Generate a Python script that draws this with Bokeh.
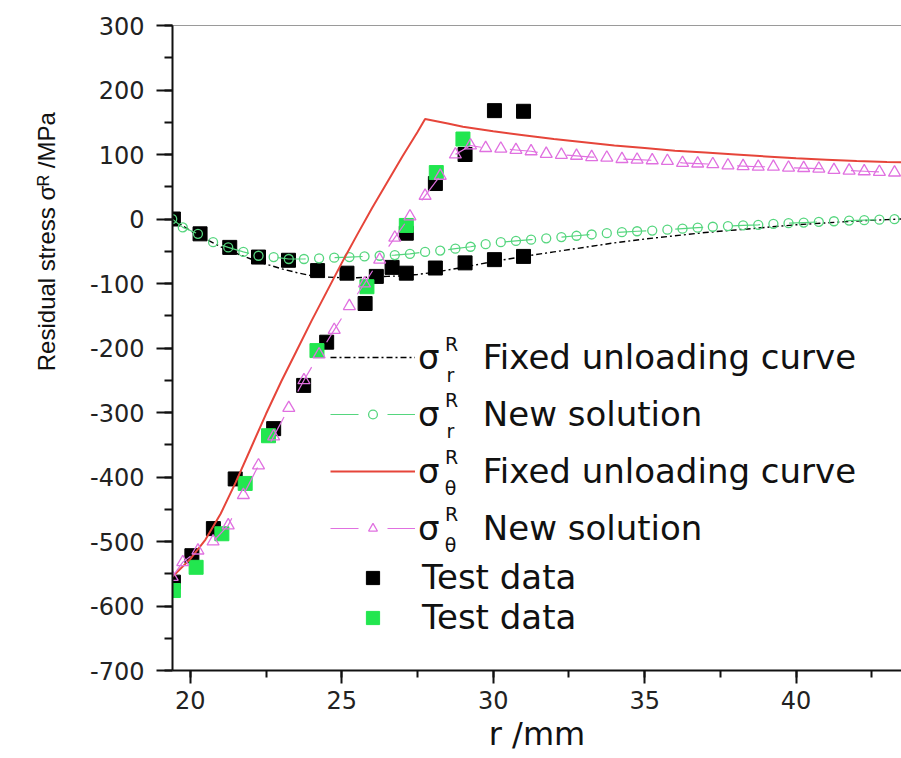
from bokeh.plotting import figure
from bokeh.models import (Range1d, LinearAxis, FixedTicker, SingleIntervalTicker,
                          Legend, LegendItem, Label, Title, PrintfTickFormatter)
from bokeh.embed import file_html
from bokeh.resources import INLINE

# ---------------- data ----------------
# sigma_r, fixed unloading curve (black dash-dot)
sr_fixed_x = [19.4, 20.0, 20.5, 21.0, 21.5, 22.0, 22.5, 23.0, 23.5, 24.0, 24.5, 25.0,
              25.5, 26.0, 26.5, 27.0, 27.5, 28.0, 29.0, 30.0, 31.0, 32.0, 33.0, 34.0,
              35.0, 36.0, 37.0, 38.0, 39.0, 40.0, 41.0, 42.0, 43.0, 43.5]
sr_fixed_y = [0, -18, -31, -43, -53, -62, -70, -77, -83, -88, -90, -91,
              -91, -90, -89, -88, -86, -83, -75, -66, -58, -51, -44, -37,
              -31, -26, -21, -17, -13, -9, -6, -3, -1, 0]

# sigma_theta, fixed unloading curve (red solid)
st_fixed_x = [19.4, 20.0, 20.5, 21.0, 21.5, 22.0, 22.5, 23.0, 23.5, 24.0, 24.5, 25.0,
              25.5, 26.0, 26.5, 27.0, 27.5, 27.75, 28.5, 29.0, 30.0, 31.0, 32.0, 33.0,
              34.0, 35.0, 36.0, 37.0, 38.0, 39.0, 40.0, 41.0, 42.0, 43.0, 43.5]
st_fixed_y = [-555, -527, -497, -457, -408, -355, -302, -252, -205, -158, -113, -68,
              -25, 17, 57, 97, 135, 155, 148, 143, 136, 130, 124, 119,
              114, 110, 106, 103, 100, 97, 94, 92, 90, 88.5, 88]

# new solution (both components share the same radii)
new_x = [19.4, 19.75, 20.25, 20.75, 21.25, 21.75, 22.25, 22.75, 23.25, 23.75, 24.25,
         24.75, 25.25, 25.75, 26.25, 26.75, 27.25, 27.75, 28.25, 28.75, 29.25, 29.75,
         30.25, 30.75, 31.25, 31.75, 32.25, 32.75, 33.25, 33.75, 34.25, 34.75, 35.25,
         35.75, 36.25, 36.75, 37.25, 37.75, 38.25, 38.75, 39.25, 39.75, 40.25, 40.75,
         41.25, 41.75, 42.25, 42.75, 43.25]
sr_new_y = [0, -13, -23, -36, -44, -51, -57, -59, -62, -62, -61,
            -60, -59, -58, -57, -56, -54, -51, -49, -46, -43, -39,
            -36, -34, -32, -30, -28, -26, -24, -22, -20.5, -19, -18,
            -16.5, -15, -13.5, -12, -11, -10, -9, -7.5, -6.5, -5.5, -4.5,
            -3.5, -2.5, -1.8, -1, -0.3]
st_new_y = [-555, -532, -514, -500, -475, -428, -382, -337, -293, -250, -210,
            -172, -135, -100, -63, -29, 4, 36, 67, 100, 114, 110,
            109, 107, 105, 101, 99.5, 98, 96, 95, 93, 92, 91,
            90, 87, 86, 85, 83, 82, 81, 81, 79.5, 79, 78,
            76, 75, 74, 73, 72]

# test data (black): radial and hoop
test_r_x = [19.44, 20.32, 21.3, 22.25, 23.24, 24.2, 25.17, 26.14, 26.66, 27.13, 28.09,
            29.07, 30.04, 31.0]
test_r_y = [0, -23, -44, -59, -64, -80, -84, -89, -75, -84, -76, -68, -63, -58]
test_t_x = [19.44, 20.05, 20.76, 21.48, 22.75, 23.74, 24.5, 25.77, 27.13, 28.09, 29.07,
            30.04, 31.0]
test_t_y = [-563, -522, -480, -403, -325, -258, -191, -131, -22, 55, 100, 168, 167]
# test data (green)
test_g_x = [19.44, 20.19, 21.04, 21.81, 22.58, 24.18, 25.83, 27.13, 28.12, 29.0]
test_g_y = [-576, -540, -488, -410, -336, -204, -105, -10, 72, 124]

x_ticks_interval = 5
y_ticks_interval = 100

# ---------------- figure ----------------
p = figure(width=901, height=758, output_backend="svg", toolbar_location=None,
           x_range=Range1d(19.41, 43.48), y_range=Range1d(-700, 300),
           min_border_left=172, min_border_right=0, min_border_top=25,
           min_border_bottom=88)
p.xgrid.visible = False
p.ygrid.visible = False
p.outline_line_color = None
p.background_fill_color = "white"
p.border_fill_color = "white"

xa = p.xaxis[0]
xa.ticker = SingleIntervalTicker(interval=x_ticks_interval, num_minor_ticks=2)
ya = p.yaxis[0]
ya.ticker = SingleIntervalTicker(interval=y_ticks_interval, num_minor_ticks=2)
ya.formatter = PrintfTickFormatter(format="%d")

for ax, tout, mout, so in ((xa, 13, 7, 7), (ya, 16, 8, 12)):
    ax.axis_line_width = 2
    ax.axis_line_color = "#111111"
    ax.major_tick_line_width = 2
    ax.minor_tick_line_width = 2
    ax.major_tick_line_color = "#111111"
    ax.minor_tick_line_color = "#111111"
    ax.major_tick_in = 0
    ax.minor_tick_in = 0
    ax.major_tick_out = tout
    ax.minor_tick_out = mout
    ax.major_label_standoff = so
    ax.major_label_text_font = "DejaVu Sans"
    ax.major_label_text_font_size = "24px"
    ax.major_label_text_color = "#222222"

xa.axis_label = "r /mm"
xa.axis_label_text_font = "DejaVu Sans"
xa.axis_label_text_font_size = "32px"
xa.axis_label_text_font_style = "normal"
xa.axis_label_text_color = "#111111"
xa.axis_label_standoff = 3

top = LinearAxis(ticker=FixedTicker(ticks=[]), axis_line_color="#9a9a9a",
                 axis_line_width=1, major_tick_line_color=None,
                 minor_tick_line_color=None)
p.add_layout(top, "above")

# y-axis title (left panel, placed toward the top like the reference)
ytitle = Title(text="Residual stress  \u03c3\u1d3f /MPa", align="right", offset=80,
               standoff=56, text_font="Liberation Sans",
               text_font_size="24px", text_font_style="normal", text_color="#111111")
p.add_layout(ytitle, "left")

# ---------------- glyphs ----------------
sq_r = p.scatter(test_r_x, test_r_y, marker="square", size=14, color="black")
sq_t = p.scatter(test_t_x, test_t_y, marker="square", size=14, color="black")
sq_g = p.scatter(test_g_x, test_g_y, marker="square", size=14, color="#22e64f")

ln_black = p.line(sr_fixed_x, sr_fixed_y, line_color="black", line_width=1.4,
                  line_dash="6 3 2 3")
GREEN = "#55d67e"
MAG = "#e070e0"
ln_green = p.line(new_x, sr_new_y, line_color=GREEN, line_width=1.2, line_dash="28 29")
mk_green = p.scatter(new_x, sr_new_y, marker="circle", size=9, line_color=GREEN,
                     fill_color=None, line_width=1.3)
ln_red = p.line(st_fixed_x, st_fixed_y, line_color="#e6453a", line_width=2)
ln_mag = p.line(new_x, st_new_y, line_color=MAG, line_width=1.2, line_dash="28 29")
mk_mag = p.scatter(new_x, st_new_y, marker="triangle", size=12, line_color=MAG,
                   fill_color=None, line_width=1.3)

common = dict(padding=0, margin=0, border_line_color=None, background_fill_alpha=0,
              label_text_font="DejaVu Sans", label_text_font_size="34px",
              label_text_color="#111111", glyph_width=85)
leg1 = Legend(items=[
    LegendItem(label="\u03c3    Fixed unloading curve", renderers=[ln_black]),
    LegendItem(label="\u03c3    New solution", renderers=[ln_green, mk_green]),
    LegendItem(label="\u03c3    Fixed unloading curve", renderers=[ln_red]),
    LegendItem(label="\u03c3    New solution", renderers=[ln_mag, mk_mag]),
], location=(158, 122), glyph_height=22, spacing=17, label_standoff=3, **common)
leg2 = Legend(items=[
    LegendItem(label="Test data", renderers=[sq_r]),
    LegendItem(label="Test data", renderers=[sq_g]),
], location=(158, 33), glyph_height=33, spacing=0, label_standoff=7, **common)
p.add_layout(leg1)
p.add_layout(leg2)

# superscripts / subscripts of the legend symbols
row_centers = [358, 414.7, 471.4, 528.1]
subs = ["r", "r", "\u03b8", "\u03b8"]
for yc, s in zip(row_centers, subs):
    p.add_layout(Label(x=451 - 172, y=670 - (yc - 15), x_units="screen", y_units="screen",
                       text="R", text_font="DejaVu Sans", text_font_size="19px",
                       text_align="center", text_baseline="middle", text_color="#111111"))
    p.add_layout(Label(x=450 - 172, y=670 - (yc + 16), x_units="screen", y_units="screen",
                       text=s, text_font="DejaVu Sans", text_font_size="19px",
                       text_align="center", text_baseline="middle", text_color="#111111"))

open("out.html", "w").write(file_html(p, INLINE))
